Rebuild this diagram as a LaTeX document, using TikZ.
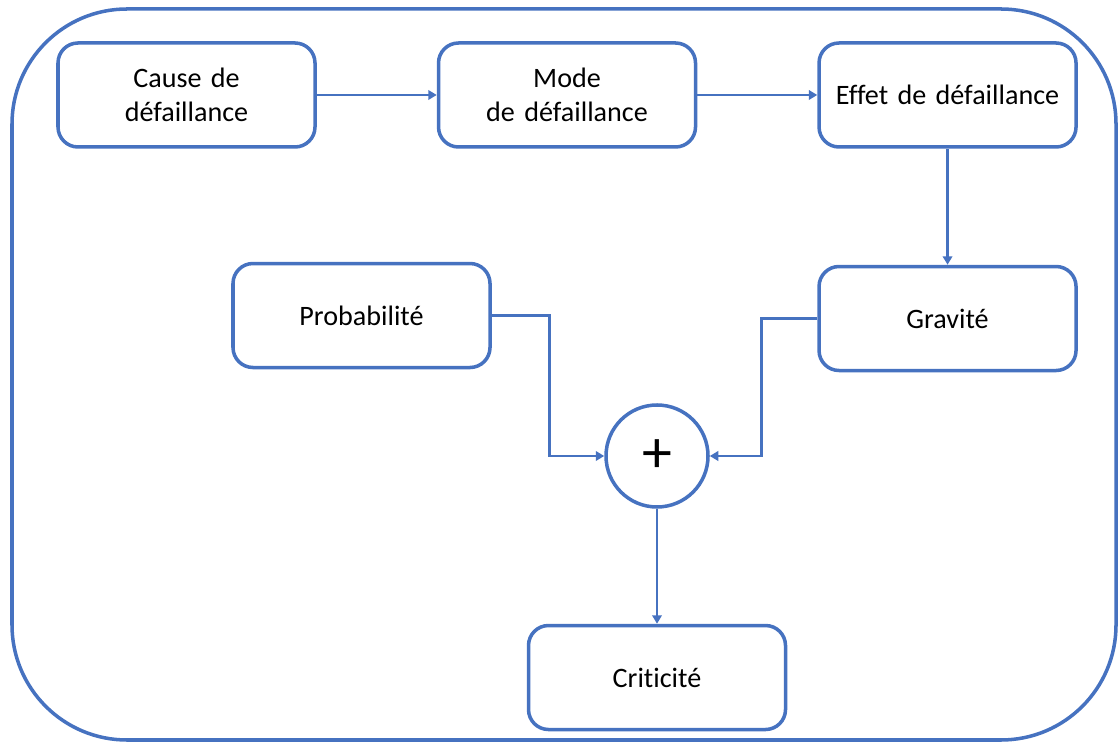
\documentclass[tikz,border=0pt]{standalone}
\usepackage{fontspec}
\setmainfont{Carlito}[RawFeature={-liga}]
\usetikzlibrary{positioning,arrows.meta}
\definecolor{amdecblue}{RGB}{70,114,192}

\begin{document}
\begin{tikzpicture}[font=\fontsize{8}{9.7}\selectfont,>={Triangle[length=0.85mm,width=0.95mm]}]
        \tikzstyle{box}=[draw=amdecblue,line width=1pt,rectangle,rounded corners=0.2cm,minimum width=2.57cm,minimum height=1.04cm,text width=2.4cm,align=center,inner sep=0pt]
        \tikzstyle{flow}=[draw=amdecblue,line width=0.8pt]
        \useasboundingbox (0,0) rectangle (11.18,7.42);
        \draw[amdecblue,line width=1pt,rounded corners=1.15cm] (0.12,0.02) rectangle (11.16,7.33);

        \node[box] (cause) at (1.865,6.47) {Cause de\\défaillance};
        \node[box] (mode) [right=1.2cm of cause] {Mode\\de défaillance}
            edge[flow,<-] (cause);
        \node[box] (effet) [right=1.2cm of mode] {Effet de défaillance}
            edge[flow,<-] (mode);

        \node[box] (gravite) [below=1.16cm of effet] {Gravité}
            edge[flow,<-] (effet);
        \node[box] (proba) [below=1.13cm of cause,xshift=1.75cm] {Probabilité};

        \node[draw=amdecblue,line width=1pt,circle,minimum size=1.02cm,inner sep=0pt,font=\fontsize{17}{20}\selectfont] (plus) at (6.57,2.86) {+};
        \node[box] (criticite) [below=1.15cm of plus] {Criticité}
            edge[flow,<-] (plus);

        \draw[flow,->] (proba.east) -- ++(0.58,0) |- (plus.west);
        \draw[flow,->] (gravite.west) -- ++(-0.56,0) |- (plus.east);
    \end{tikzpicture}
\end{document}
